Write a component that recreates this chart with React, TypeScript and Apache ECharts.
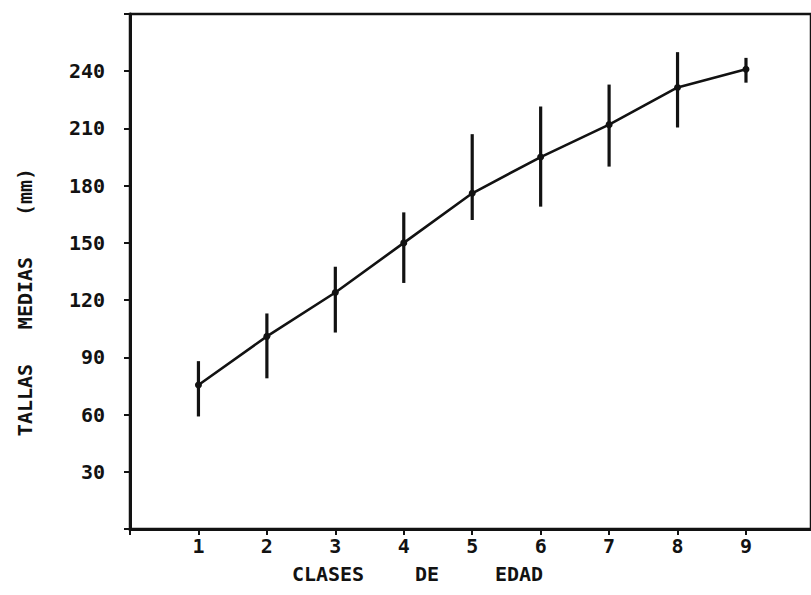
import React, { useEffect, useRef } from "react";
import * as echarts from "echarts";

const AGE_CLASSES = [1, 2, 3, 4, 5, 6, 7, 8, 9];
const MEAN_LENGTH = [75.5, 101, 124, 150, 176, 195, 212, 231.5, 241];
const LOWER_LENGTH = [59, 79, 103, 129, 162, 169, 190, 210.5, 234];
const UPPER_LENGTH = [88, 113, 137.5, 166, 207, 221.5, 233, 250, 247];
const Y_TICK_LABELS = [30, 60, 90, 120, 150, 180, 210, 240];
const X_TICK_LABELS = [1, 2, 3, 4, 5, 6, 7, 8, 9];

const X_MIN = 0;
const X_MAX = 9.95;
const Y_MIN = 0;
const Y_MAX = 270;

const INK = "#121212";
const FONT = "DejaVu Sans Mono";

export default function App() {
  const ref = useRef<HTMLDivElement>(null);
  useEffect(() => {
    if (!ref.current) return;
    const chart = echarts.init(ref.current, null, { renderer: "svg" });
    const meanData = AGE_CLASSES.map((a, i) => [a, MEAN_LENGTH[i]]);
    const barData = AGE_CLASSES.map((a, i) => [a, LOWER_LENGTH[i], UPPER_LENGTH[i]]);
    const labelStyle = { fontFamily: FONT, fontSize: 20, color: INK, fontWeight: "bold" as const };
    const txt = (text: string, x: number, y: number, rot = 0) => ({
      type: "text",
      x,
      y,
      rotation: rot,
      style: {
        text,
        align: "center",
        verticalAlign: "middle",
        fill: INK,
        fontFamily: FONT,
        fontSize: 20,
        fontWeight: "bold",
      },
    });
    chart.setOption({
      animation: false,
      backgroundColor: "#ffffff",
      grid: {
        left: 130,
        top: 14,
        bottom: 66,
        right: 0,
        show: true,
        borderColor: INK,
        borderWidth: 2.5,
        containLabel: false,
      },
      xAxis: {
        type: "value",
        min: X_MIN,
        max: X_MAX,
        interval: 1,
        axisLine: { show: true, lineStyle: { color: INK, width: 3 } },
        axisTick: { show: true, length: 6, lineStyle: { color: INK, width: 2 } },
        axisLabel: {
          margin: 7,
          showMaxLabel: false,
          formatter: (v: number) => (X_TICK_LABELS.includes(v) ? String(v) : ""),
          ...labelStyle,
        },
        splitLine: { show: false },
      },
      yAxis: {
        type: "value",
        min: Y_MIN,
        max: Y_MAX,
        interval: 30,
        axisLine: { show: true, lineStyle: { color: INK, width: 3 } },
        axisTick: { show: true, length: 6, lineStyle: { color: INK, width: 2 } },
        axisLabel: {
          margin: 25,
          formatter: (v: number) => (Y_TICK_LABELS.includes(v) ? String(v) : ""),
          ...labelStyle,
        },
        splitLine: { show: false },
      },
      graphic: [
        txt("CLASES", 328, 574),
        txt("DE", 427, 574),
        txt("EDAD", 519, 574),
        txt("TALLAS", 25, 400, Math.PI / 2),
        txt("MEDIAS", 25, 293, Math.PI / 2),
        txt("(mm)", 25, 192, Math.PI / 2),
      ],
      series: [
        {
          type: "custom",
          data: barData,
          encode: { x: 0, y: [1, 2] },
          renderItem: (params: any, api: any) => {
            const x = api.value(0);
            const lo = api.coord([x, api.value(1)]);
            const hi = api.coord([x, api.value(2)]);
            return {
              type: "line",
              shape: { x1: lo[0], y1: lo[1], x2: hi[0], y2: hi[1] },
              style: { stroke: INK, lineWidth: 3.2 },
            };
          },
          z: 2,
        },
        {
          type: "line",
          data: meanData,
          symbol: "circle",
          symbolSize: 7,
          lineStyle: { color: INK, width: 2.6 },
          itemStyle: { color: INK },
          z: 3,
        },
      ],
    });
    return () => chart.dispose();
  }, []);
  return (
    <div
      ref={ref}
      style={{ position: "fixed", left: 0, top: 0, width: 811, height: 595, background: "#fff" }}
    />
  );
}
